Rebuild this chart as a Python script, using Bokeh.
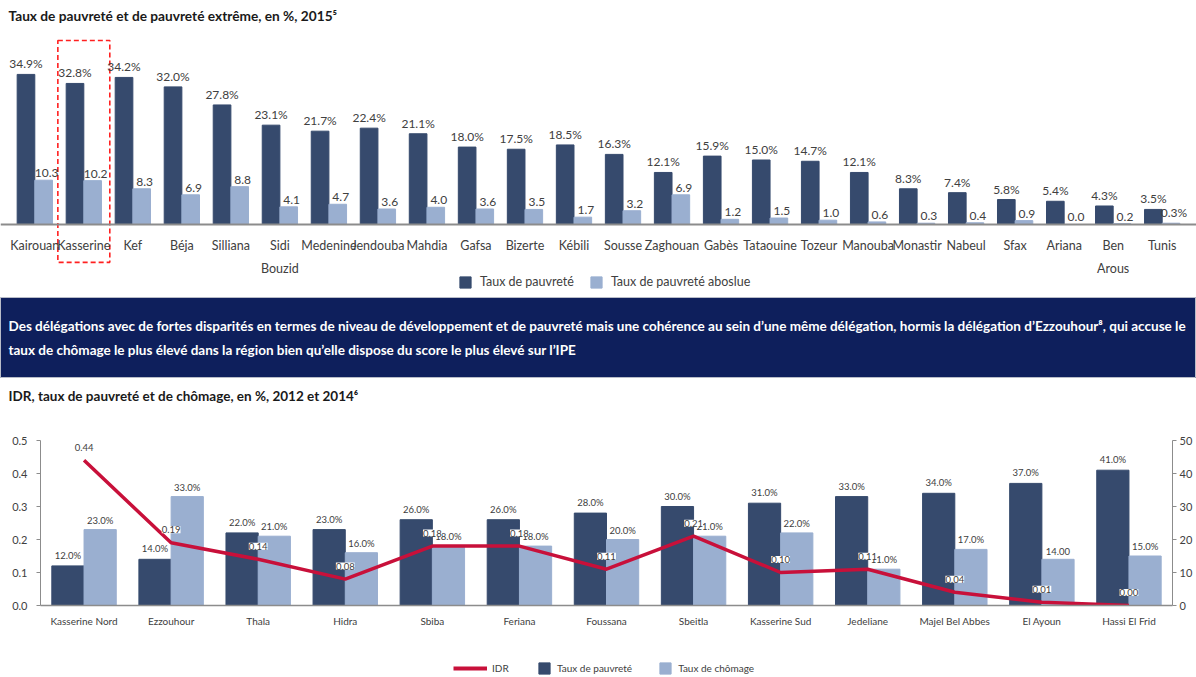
from bokeh.plotting import figure
from bokeh.models import (FactorRange, Range1d, LinearAxis, Span, ColumnDataSource, LabelSet,
                          Label, Legend, LegendItem, FixedTicker, NumeralTickFormatter)
from bokeh.transform import dodge
from bokeh.embed import file_html
from bokeh.resources import INLINE
from bokeh.core.properties import value

FONT = "Lato"
DARK = "#364A6D"
LIGHT = "#9AAFD0"
RED = "#C8103A"
NAVY = "#0E1F5C"
TXT = "#404040"
GRAY = "#8C8C8C"

# ---------------- data: top chart ----------------
gouvernorats = ["Kairouan", "Kasserine", "Kef", "Béja", "Silliana", "Sidi Bouzid", "Medenine",
                "Jendouba", "Mahdia", "Gafsa", "Bizerte", "Kébili", "Sousse", "Zaghouan", "Gabès",
                "Tataouine", "Tozeur", "Manouba", "Monastir", "Nabeul", "Sfax", "Ariana",
                "Ben Arous", "Tunis"]
taux_pauvrete = [34.9, 32.8, 34.2, 32.0, 27.8, 23.1, 21.7, 22.4, 21.1, 18.0, 17.5, 18.5, 16.3,
                 12.1, 15.9, 15.0, 14.7, 12.1, 8.3, 7.4, 5.8, 5.4, 4.3, 3.5]
taux_extreme = [10.3, 10.2, 8.3, 6.9, 8.8, 4.1, 4.7, 3.6, 4.0, 3.6, 3.5, 1.7, 3.2, 6.9, 1.2,
                1.5, 1.0, 0.6, 0.3, 0.4, 0.9, 0.0, 0.2, 0.3]
highlight = "Kasserine"

# ---------------- data: bottom chart ----------------
delegations = ["Kasserine Nord", "Ezzouhour", "Thala", "Hidra", "Sbiba", "Feriana", "Foussana",
               "Sbeitla", "Kasserine Sud", "Jedeliane", "Majel Bel Abbes", "El Ayoun",
               "Hassi El Frid"]
idr = [0.44, 0.19, 0.14, 0.08, 0.18, 0.18, 0.11, 0.21, 0.10, 0.11, 0.04, 0.01, 0.00]
pauvrete_2 = [12, 14, 22, 23, 26, 26, 28, 30, 31, 33, 34, 37, 41]
chomage = [23, 33, 21, 16, 18, 18, 20, 21, 22, 11, 17, 14, 15]

title_top = "Taux de pauvreté et de pauvreté extrême, en %, 2015\u2075"
title_bot = "IDR, taux de pauvreté et de chômage, en %, 2012 et 2014\u2076"
banner_lines = [
    "Des délégations avec de fortes disparités en termes de niveau de développement et de pauvreté mais une cohérence au sein d\u2019une même délégation, hormis la délégation d\u2019Ezzouhour\u2078, qui accuse le",
    "taux de chômage le plus élevé dans la région bien qu\u2019elle dispose du score le plus élevé sur l\u2019IPE",
]

W = 1196


def bare(height, **kw):
    p = figure(width=W, height=height, x_axis_location=None, y_axis_location=None,
               min_border=0, toolbar_location=None, output_backend="svg",
               outline_line_color=None, **kw)
    p.grid.visible = False
    return p


# ================= TOP FIGURE =================
top = bare(297,
           x_range=FactorRange(factors=gouvernorats, range_padding=0.2,
                               range_padding_units="absolute"),
           y_range=Range1d(-16.98, 52.09))

ext_labels = [f"{v:.1f}" for v in taux_extreme]
ext_labels[-1] += "%"
src = ColumnDataSource(dict(
    g=gouvernorats, pauv=taux_pauvrete, ext=taux_extreme,
    pl=[f"{v:.1f}%" for v in taux_pauvrete], el=ext_labels,
    l1=[n.split(" ", 1)[0] for n in gouvernorats],
    l2=[n.split(" ", 1)[1] if " " in n else "" for n in gouvernorats]))

r_d = top.vbar(x=dodge("g", -0.18, range=top.x_range), top="pauv", width=0.36, source=src,
               fill_color=DARK, line_color=DARK)
r_l = top.vbar(x=dodge("g", 0.18, range=top.x_range), top="ext", width=0.36, source=src,
               fill_color=LIGHT, line_color=LIGHT)
top.add_layout(Span(location=0, dimension="width", line_color=GRAY, line_width=2))

top.add_layout(LabelSet(x=dodge("g", -0.18, range=top.x_range), y="pauv", text="pl", source=src,
                        text_align="center", text_baseline="bottom", y_offset=3,
                        text_font=value(FONT), text_font_size=value("12px"), text_color=TXT))
top.add_layout(LabelSet(x=dodge("g", 0.18, range=top.x_range), y="ext", text="el", source=src,
                        text_align="center", text_baseline="bottom", y_offset=3, x_offset=3,
                        text_font=value(FONT), text_font_size=value("12px"), text_color=TXT))
top.add_layout(LabelSet(x="g", y=0, text="l1", source=src, text_align="center",
                        text_baseline="middle", y_offset=-21, text_font=value(FONT),
                        text_font_size=value("12.5px"), text_color=TXT))
top.add_layout(LabelSet(x="g", y=0, text="l2", source=src, text_align="center",
                        text_baseline="middle", y_offset=-44, text_font=value(FONT),
                        text_font_size=value("12.5px"), text_color=TXT))

top.rect(x=[highlight], y=[17.0], width=1.06, height=51.6, fill_color=None,
         line_color="#FF2020", line_width=1.6, line_dash="5 3")

top.add_layout(Label(x=8, y=282, x_units="screen", y_units="screen", text=title_top,
                     text_font=FONT, text_font_style="bold", text_font_size="13.7px",
                     text_color="#1A1A1A", text_baseline="middle"))

leg_top = Legend(items=[LegendItem(label="Taux de pauvreté", renderers=[r_d]),
                        LegendItem(label="Taux de pauvreté aboslue", renderers=[r_l])],
                 orientation="horizontal", location=(458, 8), glyph_width=14, glyph_height=14,
                 label_standoff=8, spacing=15, padding=0, margin=0, border_line_color=None,
                 background_fill_alpha=0, label_text_font=FONT, label_text_font_size="12.5px",
                 label_text_color=TXT, label_height=14)
top.add_layout(leg_top)

# ================= BANNER =================
ban = bare(81, x_range=Range1d(0, W), y_range=Range1d(0, 81),
           background_fill_color=NAVY, border_fill_color=NAVY)
ban.outline_line_color = "#B8BCC8"
for i, line in enumerate(banner_lines):
    ban.add_layout(Label(x=8, y=53 - 24 * i, x_units="screen", y_units="screen", text=line,
                         text_font=FONT, text_font_style="bold", text_font_size="13.5px",
                         text_color="white", text_baseline="middle"))

# ================= BOTTOM TITLE =================
btitle = bare(42, x_range=Range1d(0, W), y_range=Range1d(0, 42))
btitle.add_layout(Label(x=8, y=25, x_units="screen", y_units="screen", text=title_bot,
                        text_font=FONT, text_font_style="bold", text_font_size="13.5px",
                        text_color="#1A1A1A", text_baseline="middle"))

# ================= BOTTOM CHART =================
bot = figure(width=W, height=220,
             x_range=FactorRange(factors=delegations, range_padding=0),
             y_range=Range1d(0, 0.5),
             min_border_left=40, min_border_right=24, min_border_top=20, min_border_bottom=35,
             toolbar_location=None, output_backend="svg", outline_line_color=None)
bot.grid.visible = False
bot.extra_y_ranges = {"pct": Range1d(0, 50)}

chom_labels = [f"{v:.1f}%" for v in chomage]
chom_labels[11] = "14.00"
bsrc = ColumnDataSource(dict(
    d=delegations, idr=idr, pv=pauvrete_2, ch=chomage,
    idr_l=[f"{v:.2f}" for v in idr], pv_l=[f"{v:.1f}%" for v in pauvrete_2], ch_l=chom_labels))

bot.vbar(x=dodge("d", -0.185, range=bot.x_range), top="pv", width=0.37, source=bsrc,
         y_range_name="pct", fill_color=DARK, line_color=DARK)
bot.vbar(x=dodge("d", 0.185, range=bot.x_range), top="ch", width=0.37, source=bsrc,
         y_range_name="pct", fill_color=LIGHT, line_color=LIGHT)
bot.line(x="d", y="idr", source=bsrc, line_color=RED, line_width=3.5)

lab_kw = dict(text_font=value(FONT), text_font_size=value("9.5px"), text_color=TXT,
              text_align="center", source=bsrc)
bot.add_layout(LabelSet(x=dodge("d", -0.185, range=bot.x_range), y="pv", text="pv_l",
                        y_range_name="pct", text_baseline="bottom", y_offset=5, **lab_kw))
bot.add_layout(LabelSet(x=dodge("d", 0.185, range=bot.x_range), y="ch", text="ch_l",
                        y_range_name="pct", text_baseline="bottom", y_offset=4, **lab_kw))
bot.add_layout(LabelSet(x="d", y="idr", text="idr_l", text_baseline="middle", y_offset=13,
                        background_fill_color="white", **lab_kw))

yl = bot.yaxis[0]
yl.ticker = FixedTicker(ticks=[0, 0.1, 0.2, 0.3, 0.4, 0.5])
yl.formatter = NumeralTickFormatter(format="0.0")
yr = LinearAxis(y_range_name="pct", ticker=FixedTicker(ticks=[0, 10, 20, 30, 40, 50]))
bot.add_layout(yr, "right")
for ax in (yl, yr):
    ax.axis_line_color = GRAY
    ax.major_tick_line_color = GRAY
    ax.major_tick_in = 0
    ax.major_tick_out = 4
    ax.minor_tick_line_color = None
    ax.major_label_text_font = FONT
    ax.major_label_text_font_size = "11px"
    ax.major_label_text_color = TXT
yl.major_label_standoff = 9
yr.major_label_standoff = 3
xa = bot.xaxis[0]
xa.axis_line_color = GRAY
xa.axis_line_width = 1.5
xa.major_tick_line_color = None
xa.major_tick_out = 0
xa.major_tick_in = 0
xa.major_label_standoff = 9
xa.major_label_text_font = FONT
xa.major_label_text_font_size = "10px"
xa.major_label_text_color = TXT

# ================= BOTTOM LEGEND =================
NAN = float("nan")
lg = bare(37, x_range=Range1d(0, 1), y_range=Range1d(0, 1))
e_line = lg.line(x=[NAN, NAN], y=[NAN, NAN], line_color=RED, line_width=4)
e_d = lg.vbar(x=[NAN], top=[NAN], width=0.1, fill_color=DARK, line_color=DARK)
e_l = lg.vbar(x=[NAN], top=[NAN], width=0.1, fill_color=LIGHT, line_color=LIGHT)
leg_kw = dict(orientation="horizontal", glyph_height=14, padding=0, margin=0,
              border_line_color=None, background_fill_alpha=0, label_text_font=FONT,
              label_text_font_size="10px", label_text_color=TXT, label_height=14)
lg.add_layout(Legend(items=[LegendItem(label="IDR", renderers=[e_line])], location=(453, 2),
                     glyph_width=34, label_standoff=5, **leg_kw))
lg.add_layout(Legend(items=[LegendItem(label="Taux de pauvreté", renderers=[e_d]),
                            LegendItem(label="Taux de chômage", renderers=[e_l])],
                     location=(537, 2), glyph_width=14, label_standoff=6, spacing=26, **leg_kw))

open("out.html", "w").write(file_html([top, ban, btitle, bot, lg], INLINE))
